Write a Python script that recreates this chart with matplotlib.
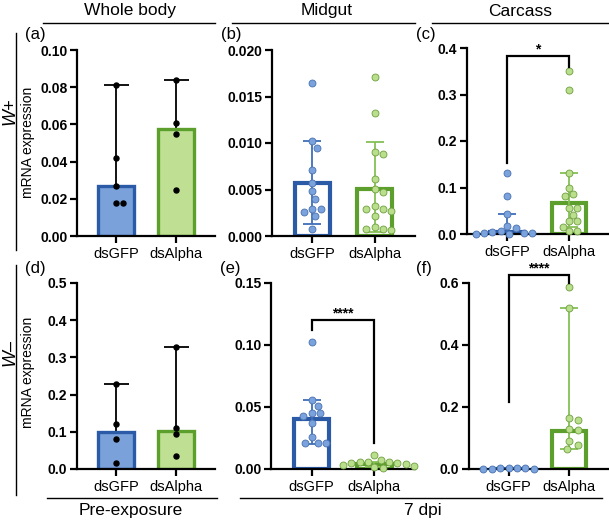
import numpy as np
import matplotlib
matplotlib.use("Agg")
import matplotlib.pyplot as plt
from matplotlib.lines import Line2D

plt.rcParams['font.family'] = ['Liberation Sans', 'DejaVu Sans']

# ---------------- data ----------------
categories = ["dsGFP", "dsAlpha"]

a_gfp = [0.081, 0.042, 0.027, 0.0175, 0.0175]
a_alpha = [0.084, 0.061, 0.055, 0.0245]
a_bar = [0.027, 0.0575]
a_lo = [0.0175, 0.0245]
a_hi = [0.081, 0.084]

b_gfp = [0.0165, 0.01025, 0.0095, 0.0071, 0.0057, 0.0048, 0.0040, 0.0029, 0.0029, 0.0026, 0.0021, 0.0008]
b_alpha = [0.0171, 0.0132, 0.0090, 0.0088, 0.0061, 0.0051, 0.0047, 0.0032, 0.0029, 0.0029,
           0.0027, 0.0021, 0.0010, 0.0007, 0.0007, 0.0006]
b_bar = [0.0057, 0.0051]
b_lo = [0.0013, 0.0004]
b_hi = [0.0102, 0.0101]

c_gfp = [0.131, 0.081, 0.044, 0.017, 0.012, 0.006, 0.004, 0.003, 0.002, 0.002, 0.001, 0.001]
c_alpha = [0.351, 0.309, 0.131, 0.100, 0.086, 0.082, 0.056, 0.056, 0.041, 0.027, 0.027, 0.016, 0.006, 0.006]
c_bar = [0.004, 0.066]
c_lo = [0.0005, 0.016]
c_hi = [0.044, 0.131]

d_gfp = [0.228, 0.122, 0.080, 0.017]
d_alpha = [0.328, 0.110, 0.095, 0.035]
d_bar = [0.100, 0.101]
d_lo = [0.017, 0.035]
d_hi = [0.228, 0.328]

e_gfp = [0.1025, 0.056, 0.051, 0.045, 0.045, 0.043, 0.037, 0.026, 0.021, 0.021, 0.021]
e_alpha = [0.011, 0.0072, 0.006, 0.006, 0.0055, 0.005, 0.0045, 0.004, 0.0032, 0.0025, 0.002, 0.001]
e_bar = [0.040, 0.004]
e_lo = [0.0205, 0.002]
e_hi = [0.0555, 0.006]

f_gfp = [0.002, 0.002, 0.002, 0.002, 0.001, 0.001, 0.001]
f_alpha = [0.587, 0.519, 0.165, 0.159, 0.129, 0.127, 0.089, 0.078, 0.065]
f_bar = [0.001, 0.124]
f_lo = [0.0005, 0.0645]
f_hi = [0.0015, 0.519]

# significance brackets: (left end, top, right end, label)
c_sig = (0.152, 0.382, 0.360, "*")
e_sig = (0.112, 0.120, 0.0207, "****")
f_sig = (0.215, 0.625, 0.600, "****")

yticks_a = [0.00, 0.02, 0.04, 0.06, 0.08, 0.10]
yticks_b = [0.000, 0.005, 0.010, 0.015, 0.020]
yticks_c = [0.0, 0.1, 0.2, 0.3, 0.4]
yticks_d = [0.0, 0.1, 0.2, 0.3, 0.4, 0.5]
yticks_e = [0.00, 0.05, 0.10, 0.15]
yticks_f = [0.0, 0.2, 0.4, 0.6]

# ---------------- style ----------------
W, H = 609, 521
BLUE_EDGE = "#2b5aa6"
BLUE_FILL = "#7ba1da"
BLUE_PT = "#7aa2dc"
BLUE_PT_EDGE = "#4a72b0"
BLUE_ERR = "#3f6fba"
GREEN_EDGE = "#5c9f2c"
GREEN_FILL = "#bfe093"
GREEN_PT = "#b9de8c"
GREEN_PT_EDGE = "#6e9f3e"
GREEN_ERR = "#86c057"

fig = plt.figure(figsize=(W / 100, H / 100), dpi=100)


def px_axes(x0, x1, ytop, ybot):
    return fig.add_axes([x0 / W, 1 - ybot / H, (x1 - x0) / W, (ybot - ytop) / H])


def style_axes(ax, yticks, fmt):
    ax.set_xlim(-0.65, 1.65)
    ax.set_ylim(yticks[0], yticks[-1])
    for s in ["top", "right"]:
        ax.spines[s].set_visible(False)
    for s in ["left", "bottom"]:
        ax.spines[s].set_linewidth(1.6)
    ax.set_yticks(yticks)
    ax.set_yticklabels([fmt % t for t in yticks], fontweight="bold", fontsize=10)
    ax.set_xticks([0, 1])
    ax.set_xticklabels(categories, fontsize=10.5)
    ax.tick_params(axis="both", length=5, width=1.6, pad=2)
    ax.tick_params(axis="x", pad=3)
    ax.patch.set_alpha(0)


def swarm_offsets(ax, x0, vals, diam_px, sep=1.15):
    trans = ax.transData
    pix = trans.transform(np.column_stack([np.full(len(vals), x0), vals]))
    ppu = trans.transform((1, 0))[0] - trans.transform((0, 0))[0]
    placed = []
    offs = []
    step = diam_px * 0.3
    cands = [0.0]
    for k in range(1, 60):
        cands += [k * step, -k * step]
    for (px, py) in pix:
        chosen = 0.0
        for c in cands:
            ok = True
            for (qx, qy) in placed:
                if (px + c - qx) ** 2 + (py - qy) ** 2 < (diam_px * sep) ** 2:
                    ok = False
                    break
            if ok:
                chosen = c
                break
        placed.append((px + chosen, py))
        offs.append(chosen / ppu)
    return np.array(offs)


def draw_panel(ax, bars, lo, hi, pts, filled, capsize):
    edges = [BLUE_EDGE, GREEN_EDGE]
    fills = [BLUE_FILL, GREEN_FILL]
    for i in range(2):
        if filled:
            ax.errorbar(i, bars[i], yerr=[[bars[i] - lo[i]], [hi[i] - bars[i]]], color="black",
                        lw=1.3, capsize=capsize, capthick=1.3, zorder=1)
            ax.bar(i, bars[i], width=0.6, color=fills[i], edgecolor=edges[i], lw=2.4, zorder=2)
            vals = np.array(pts[i])
            offs = swarm_offsets(ax, i, vals, 5.5, sep=1.0)
            ax.plot(i + offs, vals, "o", color="black", ms=3.6, zorder=4, clip_on=False)
        else:
            ax.bar(i, bars[i], width=0.56, color="white", edgecolor=edges[i], lw=3.0, zorder=1)
            ecol = [BLUE_ERR, GREEN_ERR][i]
            ax.errorbar(i, bars[i], yerr=[[bars[i] - lo[i]], [hi[i] - bars[i]]], color=ecol,
                        lw=1.3, capsize=capsize, capthick=1.3, zorder=2)
            vals = np.array(pts[i])
            offs = swarm_offsets(ax, i, vals, 7.0, sep=1.1)
            ax.plot(i + offs, vals, "o", color=[BLUE_PT, GREEN_PT][i],
                    mec=[BLUE_PT_EDGE, GREEN_PT_EDGE][i], mew=0.6, ms=5.0, zorder=4, clip_on=False)


def bracket(ax, sig):
    yl, yt, yr, lab = sig
    ax.plot([0, 0, 1, 1], [yl, yt, yt, yr], color="black", lw=1.6, zorder=5, clip_on=False,
            solid_joinstyle="miter")
    ax.text(0.5, yt, lab, ha="center", va="bottom", fontsize=10, fontweight="bold", clip_on=False)


axa = px_axes(77, 215, 50, 236)
axb = px_axes(272, 415, 50, 236)
axc = px_axes(467, 609, 48, 234)
axd = px_axes(77, 215, 283, 469)
axe = px_axes(271, 415, 283, 469)
axf = px_axes(469, 609, 283, 469)

style_axes(axa, yticks_a, "%.2f")
style_axes(axb, yticks_b, "%.3f")
style_axes(axc, yticks_c, "%.1f")
style_axes(axd, yticks_d, "%.1f")
style_axes(axe, yticks_e, "%.2f")
style_axes(axf, yticks_f, "%.1f")

draw_panel(axa, a_bar, a_lo, a_hi, [a_gfp, a_alpha], True, 9)
draw_panel(axb, b_bar, b_lo, b_hi, [b_gfp, b_alpha], False, 6.5)
draw_panel(axc, c_bar, c_lo, c_hi, [c_gfp, c_alpha], False, 6.5)
draw_panel(axd, d_bar, d_lo, d_hi, [d_gfp, d_alpha], True, 9)
draw_panel(axe, e_bar, e_lo, e_hi, [e_gfp, e_alpha], False, 6.5)
draw_panel(axf, f_bar, f_lo, f_hi, [f_gfp, f_alpha], False, 6.5)

bracket(axc, c_sig)
bracket(axe, e_sig)
bracket(axf, f_sig)

# panel letters
for lab, x, y in [("(a)", 25, 35), ("(b)", 221, 35), ("(c)", 416, 35),
                  ("(d)", 25, 268), ("(e)", 220, 268), ("(f)", 416, 268)]:
    fig.text(x / W, 1 - y / H, lab, fontsize=12, ha="left", va="center")


def hline(x0, x1, y):
    fig.add_artist(Line2D([x0 / W, x1 / W], [1 - y / H, 1 - y / H], color="black", lw=1.0,
                          transform=fig.transFigure))


def vline(x, y0, y1):
    fig.add_artist(Line2D([x / W, x / W], [1 - y0 / H, 1 - y1 / H], color="black", lw=1.0,
                          transform=fig.transFigure))


# headers
for txt, cx, x0, x1 in [("Whole body", 130, 43, 215), ("Midgut", 327, 232, 415), ("Carcass", 520, 432, 608)]:
    fig.text(cx / W, 1 - 11 / H, txt, fontsize=12.5, ha="center", va="center")
    hline(x0, x1, 23)

# footers
hline(47, 217, 498)
fig.text(131 / W, 1 - 510 / H, "Pre-exposure", fontsize=12.5, ha="center", va="center")
hline(240, 602, 498)
fig.text(423 / W, 1 - 510 / H, "7 dpi", fontsize=12.5, ha="center", va="center")

# row labels
vline(16, 33, 250)
vline(16, 265, 495)
fig.text(10 / W, 1 - 111 / H, "W+", fontsize=13, style="italic", rotation=90, ha="center", va="center")
fig.text(28 / W, 1 - 142 / H, "mRNA expression", fontsize=10, rotation=90, ha="center", va="center")
fig.text(10 / W, 1 - 352 / H, "W\u2013", fontsize=13, style="italic", rotation=90, ha="center", va="center")
fig.text(28 / W, 1 - 372 / H, "mRNA expression", fontsize=10, rotation=90, ha="center", va="center")

fig.savefig("out.png", dpi=100)
